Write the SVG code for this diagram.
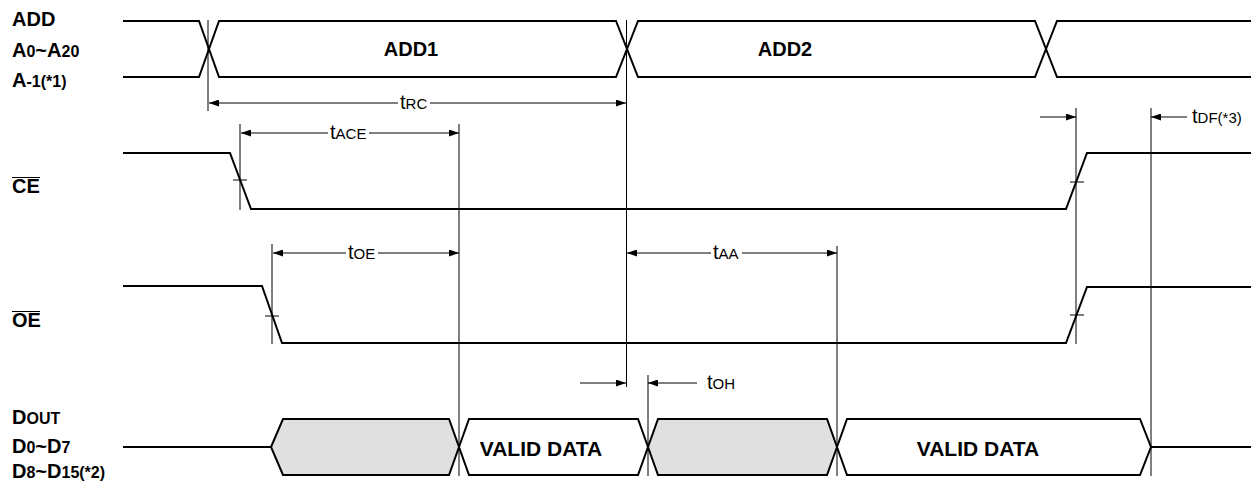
<svg xmlns="http://www.w3.org/2000/svg" width="1251" height="487" viewBox="0 0 1251 487">
<style>
.sig{fill:none;stroke:#000;stroke-width:2;stroke-linejoin:miter}
.hex{stroke:#000;stroke-width:2}
.grey{fill:#e0e0e0}
.white{fill:#fff}
.thin{fill:none;stroke:#000;stroke-width:1}
.lbl{font-family:"Liberation Sans",Arial,sans-serif;font-weight:bold;font-size:20px;fill:#000}
.sub{font-size:16px}
.dlbl{font-family:"Liberation Sans",Arial,sans-serif;font-size:20px;fill:#000}
.dsub{font-size:15px}
.box{font-family:"Liberation Sans",Arial,sans-serif;font-weight:bold;font-size:20px;fill:#000}
.vd{font-size:21px}
</style>
<defs>
<marker id="ah" viewBox="0 0 10 7" refX="10" refY="3.5" markerWidth="10" markerHeight="7" markerUnits="userSpaceOnUse" orient="auto-start-reverse">
<path d="M0,0 L10,3.5 L0,7 z" fill="#000"/>
</marker>
</defs>
<rect width="1251" height="487" fill="#fff"/>

<g id="add">
<text class="lbl" x="12" y="26">ADD</text>
<text class="lbl" x="12" y="57">A<tspan class="sub">0</tspan>~A<tspan class="sub">20</tspan></text>
<text class="lbl" x="12" y="87">A<tspan class="sub">-1(*1)</tspan></text>
<path class="sig" d="M123,21 H199 L219,77 H616 L638,21 H1035 L1057,77 H1251"/>
<path class="sig" d="M123,77 H199 L219,21 H616 L638,77 H1035 L1057,21 H1251"/>
<text class="box" x="411" y="56" text-anchor="middle">ADD1</text>
<text class="box" x="785" y="56" text-anchor="middle">ADD2</text>
</g>

<g id="ce">
<text class="lbl" x="12" y="193">CE</text>
<line class="thin" x1="12" y1="177.5" x2="40" y2="177.5" stroke-width="1.5"/>
<path class="sig" d="M123,153 H230 L251,209 H1066 L1087,153 H1251"/>
<line class="thin" x1="233" y1="180" x2="247" y2="180"/>
<line class="thin" x1="1070" y1="182" x2="1084" y2="182"/>
</g>

<g id="oe">
<text class="lbl" x="12" y="327">OE</text>
<line class="thin" x1="12" y1="311.5" x2="40" y2="311.5" stroke-width="1.5"/>
<path class="sig" d="M123,286 H262 L282,343 H1066 L1087,287 H1251"/>
<line class="thin" x1="265" y1="316" x2="279" y2="316"/>
<line class="thin" x1="1070" y1="315" x2="1084" y2="315"/>
</g>

<g id="dout">
<text class="lbl" x="12" y="424">D<tspan class="sub">OUT</tspan></text>
<text class="lbl" x="12" y="453">D<tspan class="sub">0</tspan>~D<tspan class="sub">7</tspan></text>
<text class="lbl" x="12" y="478">D<tspan class="sub">8</tspan>~D<tspan class="sub">15(*2)</tspan></text>
<path class="sig" d="M123,447 H271"/>
<polygon class="hex grey" points="271,447 283,419 449,419 459,447 449,475 283,475"/>
<polygon class="hex white" points="459,447 469,419 638,419 648,447 638,475 469,475"/>
<polygon class="hex grey" points="648,447 658,419 827,419 837,447 827,475 658,475"/>
<polygon class="hex white" points="837,447 847,419 1140,419 1151,447 1140,475 847,475"/>
<path class="sig" d="M1151,447 H1251"/>
<text class="box vd" x="541" y="456" text-anchor="middle">VALID DATA</text>
<text class="box vd" x="978" y="456" text-anchor="middle">VALID DATA</text>
</g>

<g id="connectors">
<line class="thin" x1="208" y1="20" x2="208" y2="111"/>
<line class="thin" x1="626.5" y1="20" x2="626.5" y2="387"/>
<line class="thin" x1="240" y1="124" x2="240" y2="210"/>
<line class="thin" x1="459" y1="124" x2="459" y2="476"/>
<line class="thin" x1="272" y1="244" x2="272" y2="344"/>
<line class="thin" x1="837" y1="246" x2="837" y2="476"/>
<line class="thin" x1="648" y1="375" x2="648" y2="476"/>
<line class="thin" x1="1076" y1="108" x2="1076" y2="344"/>
<line class="thin" x1="1151" y1="108" x2="1151" y2="476"/>

<line class="thin" x1="398" y1="103" x2="209" y2="103" marker-end="url(#ah)"/>
<line class="thin" x1="430" y1="103" x2="626" y2="103" marker-end="url(#ah)"/>
<text class="dlbl" x="400" y="109">t<tspan class="dsub">RC</tspan></text>

<line class="thin" x1="328" y1="133" x2="241" y2="133" marker-end="url(#ah)"/>
<line class="thin" x1="369" y1="133" x2="459" y2="133" marker-end="url(#ah)"/>
<text class="dlbl" x="330" y="139">t<tspan class="dsub">ACE</tspan></text>

<line class="thin" x1="346" y1="253" x2="273" y2="253" marker-end="url(#ah)"/>
<line class="thin" x1="378" y1="253" x2="459" y2="253" marker-end="url(#ah)"/>
<text class="dlbl" x="348" y="259">t<tspan class="dsub">OE</tspan></text>

<line class="thin" x1="711" y1="253" x2="627" y2="253" marker-end="url(#ah)"/>
<line class="thin" x1="742" y1="253" x2="837" y2="253" marker-end="url(#ah)"/>
<text class="dlbl" x="713" y="259">t<tspan class="dsub">AA</tspan></text>

<line class="thin" x1="580" y1="383" x2="626" y2="383" marker-end="url(#ah)"/>
<line class="thin" x1="697" y1="383" x2="648" y2="383" marker-end="url(#ah)"/>
<text class="dlbl" x="707" y="389">t<tspan class="dsub">OH</tspan></text>

<line class="thin" x1="1040" y1="117" x2="1076" y2="117" marker-end="url(#ah)"/>
<line class="thin" x1="1187" y1="117" x2="1151" y2="117" marker-end="url(#ah)"/>
<text class="dlbl" x="1192" y="123">t<tspan class="dsub">DF(*3)</tspan></text>
</g>
</svg>
